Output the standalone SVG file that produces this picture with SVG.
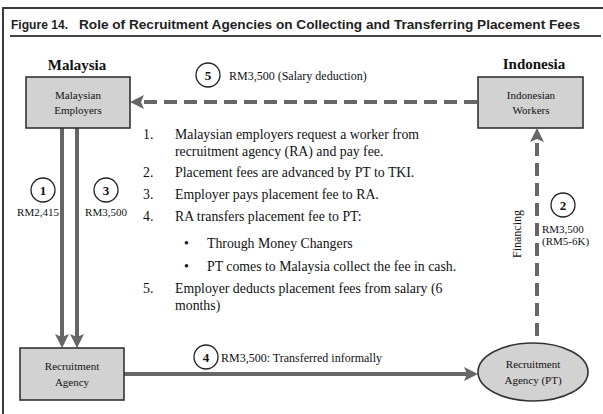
<svg xmlns="http://www.w3.org/2000/svg" width="603" height="414" viewBox="0 0 603 414">
  <style>
    .frame { stroke: #3a3a3a; stroke-width: 2; fill: none; }
    .title { font-family: "Liberation Sans Narrow", "Liberation Sans", Arial, sans-serif; font-size: 13px; font-weight: bold; fill: #222; }
    .country { font-family: "Liberation Serif", "Times New Roman", serif; font-size: 15px; font-weight: bold; fill: #111; text-anchor: middle; }
    .box { fill: #d2d2d2; stroke: #333; stroke-width: 1.6; }
    .node-text { font-family: "Liberation Serif", "Times New Roman", serif; font-size: 11px; fill: #111; text-anchor: middle; }
    .label { font-family: "Liberation Serif", "Times New Roman", serif; font-size: 12px; fill: #111; }
    .small { font-family: "Liberation Serif", "Times New Roman", serif; font-size: 11px; fill: #111; }
    .list { font-family: "Liberation Serif", "Times New Roman", serif; font-size: 13.8px; fill: #111; }
    .step { fill: #fff; stroke: #222; stroke-width: 1.3; }
    .step-num { font-family: "Liberation Serif", "Times New Roman", serif; font-size: 13px; font-weight: bold; fill: #111; text-anchor: middle; }
    .flow { stroke: #666; stroke-width: 4; fill: none; }
    .dashed { stroke-dasharray: 13 7; }
  </style>
  <defs>
    <marker id="head" markerUnits="userSpaceOnUse" viewBox="0 0 14 14" markerWidth="14" markerHeight="14" refX="4" refY="7" orient="auto">
      <path d="M0,0 L14,7 L0,14 L3,7 z" fill="#666"/>
    </marker>
  </defs>

  <rect width="603" height="414" fill="#fff"/>

  <!-- outer frame and heading -->
  <g id="heading">
    <path class="frame" d="M3,414 V8 H603"/>
    <text class="title" x="11" y="29" textLength="57" lengthAdjust="spacingAndGlyphs">Figure 14.</text>
    <text class="title" x="79" y="29" textLength="501" lengthAdjust="spacingAndGlyphs">Role of Recruitment Agencies on Collecting and Transferring Placement Fees</text>
    <line x1="10" y1="36" x2="601" y2="36" stroke="#444" stroke-width="2"/>
  </g>

  <!-- connectors -->
  <g id="connectors">
    <line class="flow dashed" x1="477" y1="102" x2="140" y2="102" marker-end="url(#head)"/>
    <line class="flow" x1="62" y1="128" x2="62" y2="338" marker-end="url(#head)"/>
    <line class="flow" x1="77" y1="128" x2="77" y2="338" marker-end="url(#head)"/>
    <line class="flow" x1="124" y1="374" x2="468" y2="374" marker-end="url(#head)"/>
    <line class="flow dashed" x1="537" y1="336" x2="537" y2="138" marker-end="url(#head)"/>
  </g>

  <!-- step markers and amounts -->
  <g id="step-5">
    <circle class="step" cx="208" cy="75" r="12"/>
    <text class="step-num" x="208" y="80">5</text>
    <text class="label" x="229" y="80">RM3,500 (Salary deduction)</text>
  </g>
  <g id="step-1">
    <circle class="step" cx="43" cy="190" r="12"/>
    <text class="step-num" x="43" y="195">1</text>
    <text class="small" x="38" y="216" text-anchor="middle">RM2,415</text>
  </g>
  <g id="step-3">
    <circle class="step" cx="106" cy="190" r="12"/>
    <text class="step-num" x="106" y="195">3</text>
    <text class="small" x="106" y="216" text-anchor="middle">RM3,500</text>
  </g>
  <g id="step-2">
    <circle class="step" cx="563" cy="205" r="12"/>
    <text class="step-num" x="563" y="210">2</text>
    <text class="small" x="542" y="233">RM3,500</text>
    <text class="small" x="542" y="245">(RM5-6K)</text>
    <text class="label" font-size="13.5" x="0" y="0" text-anchor="middle" transform="translate(521,234) rotate(-90)">Financing</text>
  </g>
  <g id="step-4">
    <circle class="step" cx="206" cy="357" r="12"/>
    <text class="step-num" x="206" y="362">4</text>
    <text class="label" x="221" y="362">RM3,500: Transferred informally</text>
  </g>

  <!-- nodes -->
  <g id="malaysia">
    <text class="country" x="77" y="70">Malaysia</text>
  </g>
  <g id="malaysian-employers">
    <rect class="box" x="26" y="77" width="104" height="51"/>
    <text class="node-text" x="78" y="99">Malaysian</text>
    <text class="node-text" x="78" y="114">Employers</text>
  </g>
  <g id="indonesia">
    <text class="country" x="534" y="69">Indonesia</text>
  </g>
  <g id="indonesian-workers">
    <rect class="box" x="478" y="77" width="105" height="51"/>
    <text class="node-text" x="531" y="99">Indonesian</text>
    <text class="node-text" x="531" y="114">Workers</text>
  </g>
  <g id="recruitment-agency">
    <rect class="box" x="20" y="348" width="104" height="52"/>
    <text class="node-text" x="72" y="370">Recruitment</text>
    <text class="node-text" x="72" y="386">Agency</text>
  </g>
  <g id="recruitment-agency-pt">
    <ellipse class="box" cx="533" cy="372" rx="55" ry="29"/>
    <text class="node-text" x="533" y="368">Recruitment</text>
    <text class="node-text" x="533" y="384">Agency (PT)</text>
  </g>

  <!-- numbered explanation -->
  <g id="steps-list" class="list">
    <text x="143" y="139">1.</text>
    <text x="175" y="139">Malaysian employers request a worker from</text>
    <text x="175" y="156">recruitment agency (RA) and pay fee.</text>
    <text x="143" y="177">2.</text>
    <text x="175" y="177">Placement fees are advanced by PT to TKI.</text>
    <text x="143" y="199">3.</text>
    <text x="175" y="199">Employer pays placement fee to RA.</text>
    <text x="143" y="221">4.</text>
    <text x="175" y="221">RA transfers placement fee to PT:</text>
    <text x="184" y="248">•</text>
    <text x="207" y="248">Through Money Changers</text>
    <text x="184" y="271">•</text>
    <text x="207" y="271">PT comes to Malaysia collect the fee in cash.</text>
    <text x="143" y="293">5.</text>
    <text x="175" y="293">Employer deducts placement fees from salary (6</text>
    <text x="175" y="310">months)</text>
  </g>
</svg>
